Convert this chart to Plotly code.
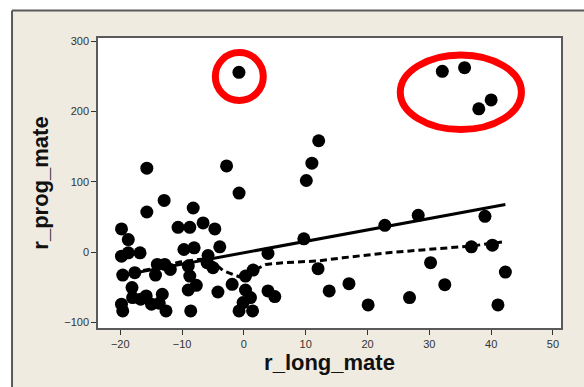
import plotly.graph_objects as go

# scatter data (r_long_mate, r_prog_mate)
x_vals = [-15.7, -2.8, 12.1, 11.0, 10.1, -0.78, -12.9, -15.7, -8.2, -6.6,
          -10.65, -8.75, -4.7, -19.8, -18.7, -9.7, -8.05, -3.9, -16.8, -18.7,
          -19.8, -5.8, -5.95, -14.0, -12.8, -11.9, -14.3, -17.65, -19.6, -9.0,
          -8.75, -5.0, 3.9, 0.26, 1.5, -1.9, -4.2, -18.1, -7.7, -9.0,
          -18.0, -16.7, -15.8, -14.95, -13.2, -13.7, -12.6, -19.8, -19.6, -8.6,
          0.26, 1.07, -0.13, -0.78, 1.4, 3.9, 5.0, 12.0, 13.8, 9.7,
          22.8, 28.2, 39.0, 17.0, 20.1, 26.8, 30.2, 32.5, 36.8, 40.2,
          42.3, 41.1,
          -0.8, 32.1, 35.7, 40.0, 38.0]
y_vals = [119.5, 122.8, 158.6, 126.6, 102.0, 84.1, 73.7, 57.2, 62.9, 41.6,
          35.4, 35.4, 33.1, 33.1, 18.0, 3.8, 6.2, 7.6, -0.9, -0.9,
          -5.7, -4.7, -15.0, -17.4, -17.4, -24.5, -32.6, -29.2, -32.6, -19.8,
          -34.0, -22.1, -1.8, -34.0, -25.5, -45.8, -56.7, -50.4, -47.2, -53.8,
          -64.6, -67.0, -62.3, -74.0, -59.9, -72.7, -83.6, -74.0, -83.6, -83.6,
          -53.8, -64.6, -71.7, -83.6, -83.6, -55.2, -63.2, -23.5, -55.2, 19.0,
          38.2, 52.4, 51.0, -44.8, -75.0, -64.6, -15.0, -46.2, 7.6, 9.9,
          -28.3, -75.0,
          256.0, 257.4, 262.6, 216.7, 204.0]

# linear fit line (solid)
fit_x = [-19.8, 42.3]
fit_y = [-33.0, 68.0]

# smoother (dashed)
smooth_x = [-19.8, -15.0, -10.4, -7.0, -5.0, -3.4, -1.7, -0.1, 1.5, 3.6,
            6.3, 12.0, 16.0, 23.0, 30.0, 37.0, 42.2]
smooth_y = [-32.0, -24.0, -14.0, -10.0, -14.0, -26.0, -32.0, -37.0, -26.0, -17.5,
            -15.0, -12.5, -8.0, -1.0, 4.0, 9.0, 15.0]

x_ticks = [-20, -10, 0, 10, 20, 30, 40, 50]
y_ticks = [-100, 0, 100, 200, 300]

fig = go.Figure()
fig.add_trace(go.Scatter(x=fit_x, y=fit_y, mode="lines",
                         line=dict(color="black", width=3), hoverinfo="skip"))
fig.add_trace(go.Scatter(x=smooth_x, y=smooth_y, mode="lines",
                         line=dict(color="black", width=3, dash="7px,4px"), hoverinfo="skip"))
fig.add_trace(go.Scatter(x=x_vals, y=y_vals, mode="markers",
                         marker=dict(color="black", size=13, line=dict(width=0))))

beige = "#EFEBE1"
border = "#5A5A5A"
shapes = [
    # white strips around the beige panel
    dict(type="rect", xref="paper", yref="paper", x0=-0.25, x1=-0.1857, y0=-0.25, y1=1.2,
         fillcolor="white", line=dict(width=0), layer="below"),
    dict(type="rect", xref="paper", yref="paper", x0=-0.25, x1=1.1, y0=1.0947, y1=1.2,
         fillcolor="white", line=dict(width=0), layer="below"),
    dict(type="line", xref="paper", yref="paper", x0=-0.1857, x1=-0.1857, y0=-0.25, y1=1.0947,
         line=dict(color=border, width=2)),
    dict(type="line", xref="paper", yref="paper", x0=-0.1857, x1=1.1, y0=1.0947, y1=1.0947,
         line=dict(color=border, width=2)),
    # red highlight ellipses
    dict(type="circle", xref="x", yref="y", x0=-4.62, x1=3.14, y0=216.0, y1=284.0,
         line=dict(color="#FF0000", width=7), layer="above"),
    dict(type="circle", xref="x", yref="y", x0=25.3, x1=44.9, y0=174.5, y1=280.7,
         line=dict(color="#FF0000", width=7), layer="above"),
]

fig.update_layout(
    width=584, height=387,
    margin=dict(l=98, r=23, t=37.5, b=59),
    paper_bgcolor=beige, plot_bgcolor="white",
    showlegend=False,
    shapes=shapes,
    font=dict(family="Liberation Sans, Arial, sans-serif", color="#222"),
)
fig.update_xaxes(range=[-23.6, 51.3], tickvals=x_ticks, ticks="outside", ticklen=5,
                 tickcolor="#333", tickfont=dict(size=11, color="#333"),
                 showline=True, mirror=True, linecolor=border, linewidth=1.5,
                 showgrid=False, zeroline=False,
                 title=dict(text="<b>r_long_mate</b>", font=dict(size=22, color="#111"), standoff=4))
fig.update_yaxes(range=[-107.9, 304.8], tickvals=y_ticks, ticks="outside", ticklen=5,
                 tickcolor="#333", tickfont=dict(size=11, color="#333"),
                 showline=True, mirror=True, linecolor=border, linewidth=1.5,
                 showgrid=False, zeroline=False,
                 title=dict(text="<b>r_prog_mate</b>", font=dict(size=22, color="#111"), standoff=10))

fig.write_html(
    "out.html",
    config={"displayModeBar": False},
    post_script="document.body.style.margin='0';document.body.style.overflow='hidden';",
)
